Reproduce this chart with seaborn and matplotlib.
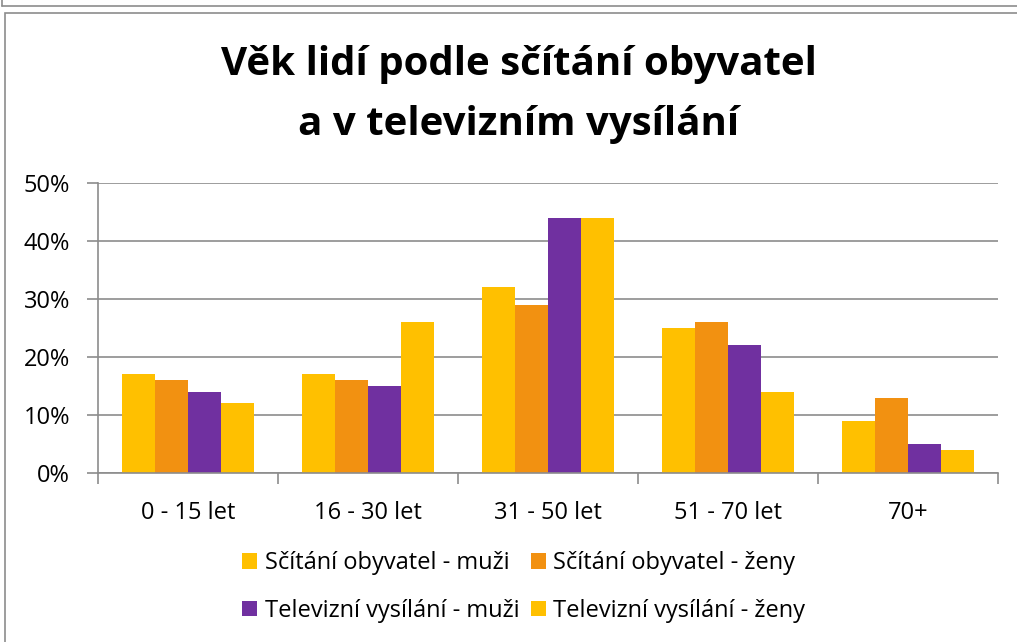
import matplotlib.pyplot as plt
from matplotlib.patches import Rectangle, Patch
from matplotlib.lines import Line2D
from matplotlib.ticker import PercentFormatter
import seaborn as sns
import pandas as pd

# data (percent)
categories = ['0 - 15 let', '16 - 30 let', '31 - 50 let', '51 - 70 let', '70+']
series = ['Sčítání obyvatel - muži', 'Sčítání obyvatel - ženy',
          'Televizní vysílání - muži', 'Televizní vysílání - ženy']
scitani_muzi = [17, 17, 32, 25, 9]
scitani_zeny = [16, 16, 29, 26, 13]
tv_muzi = [14, 15, 44, 22, 5]
tv_zeny = [12, 26, 44, 14, 4]
colors = ['#FFC000', '#F29111', '#7030A0', '#FFC000']

# long-form table for seaborn
rows = []
for name, vals in zip(series, [scitani_muzi, scitani_zeny, tv_muzi, tv_zeny]):
    for cat, v in zip(categories, vals):
        rows.append({'kategorie': cat, 'serie': name, 'hodnota': v})
df = pd.DataFrame(rows)

sns.set_theme(style='white')
plt.rcParams['font.family'] = ['Open Sans', 'DejaVu Sans']
plt.rcParams['text.color'] = 'black'

fig = plt.figure(figsize=(10.17, 6.42), dpi=100)
ax = fig.add_axes([98 / 1017, 1 - 473 / 642, 900 / 1017, 290 / 642])

sns.barplot(data=df, x='kategorie', y='hodnota', hue='serie', order=categories,
            hue_order=series, palette=colors, width=0.73, linewidth=0,
            saturation=1, ax=ax, legend=False)

# osa y
ax.set_ylim(0, 50)
ax.set_yticks(range(0, 51, 10))
ax.yaxis.set_major_formatter(PercentFormatter(decimals=0))
ax.grid(axis='y', color='#8c8c8c', linewidth=1.2)
ax.set_axisbelow(True)

# osa x - znacky mezi kategoriemi
ax.set_xlim(-0.5, len(categories) - 0.5)
ax.set_xticks([i + 0.5 for i in range(-1, len(categories))], minor=True)
ax.tick_params(axis='x', which='major', length=0, pad=20, labelsize=17, colors='black')
ax.tick_params(axis='x', which='minor', length=8, width=1.2, color='#8c8c8c', bottom=True)
ax.tick_params(axis='y', length=8, width=1.2, color='#8c8c8c', left=True, labelsize=17,
               colors='black', pad=12)
ax.set_xlabel('')
ax.set_ylabel('')

for s in ['top', 'right']:
    ax.spines[s].set_visible(False)
for s in ['left', 'bottom']:
    ax.spines[s].set_color('#8c8c8c')
    ax.spines[s].set_linewidth(1.2)

# titulek
fig.text(0.51, 1 - 65 / 642, 'Věk lidí podle sčítání obyvatel', ha='center', va='center',
         fontsize=29, fontweight='bold')
fig.text(0.51, 1 - 125 / 642, 'a v televizním vysílání', ha='center', va='center',
         fontsize=29, fontweight='bold')

# legenda 2x2, radky jako v originale
order = [0, 2, 1, 3]
handles = [Patch(facecolor=colors[i], edgecolor='none') for i in order]
labels = [series[i] for i in order]
fig.legend(handles, labels, ncol=2, loc='center', bbox_to_anchor=(0.515, 1 - 587 / 642),
           frameon=False, fontsize=17, handlelength=0.65, handleheight=0.65,
           handletextpad=0.3, columnspacing=0.5, labelspacing=1.0)

# ramecek grafu
fig.patches.append(Rectangle((5 / 1017, -0.1), 1.2, 1 - 13 / 642 + 0.1,
                             transform=fig.transFigure, fill=False,
                             edgecolor='#8c8c8c', linewidth=1.2))
fig.lines.append(Line2D([2 / 1017, 1.0], [1 - 6 / 642, 1 - 6 / 642],
                        transform=fig.transFigure, color='#8c8c8c', linewidth=1.2))
fig.lines.append(Line2D([2 / 1017, 2 / 1017], [1 - 6 / 642, 1.0],
                        transform=fig.transFigure, color='#8c8c8c', linewidth=1.2))

fig.savefig('out.png', dpi=100)
